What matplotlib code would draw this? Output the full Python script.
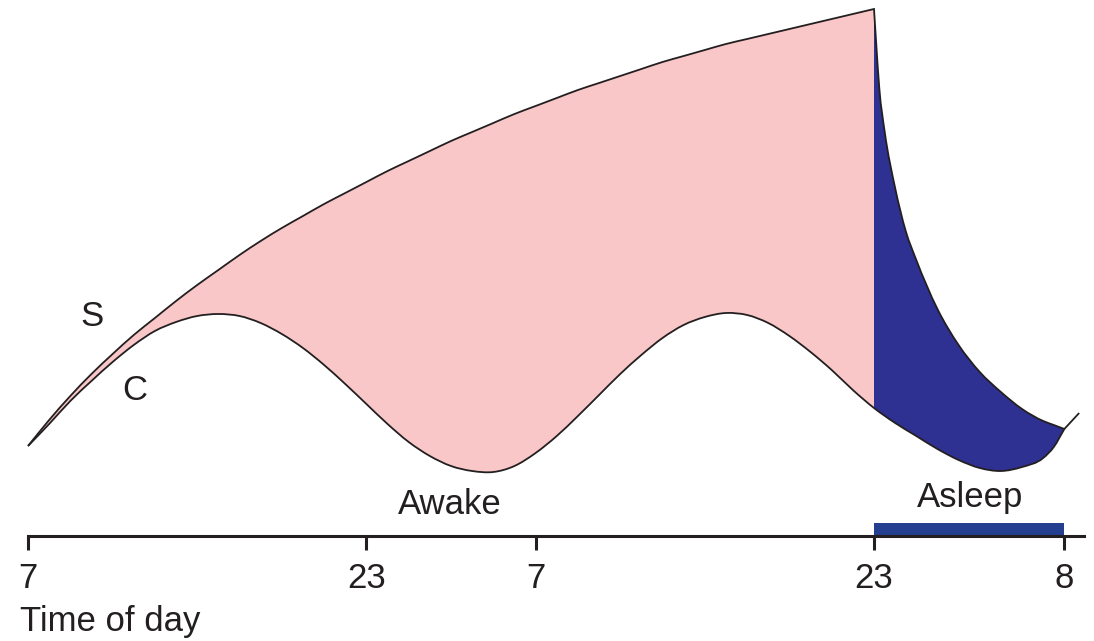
import numpy as np
import matplotlib
matplotlib.use("Agg")
import matplotlib.pyplot as plt
from matplotlib.path import Path
from matplotlib.patches import PathPatch

plt.rcParams['font.family'] = ['Liberation Sans', 'DejaVu Sans']

# ---- data (hours since 07:00 on day 1; levels in arbitrary units) ----
wake_hours = list(range(0, 41))
S_wake = [90, 116, 140, 162, 182, 201, 218, 235, 251, 266, 281, 295, 308, 320,
          332, 343, 354, 365, 375, 385, 395, 404, 413, 422, 430, 438, 446, 453,
          460, 467, 474, 480, 486, 492, 497, 502, 507, 512, 517, 522, 527]
C_wake = [90, 112, 135, 155, 174, 191, 205, 214, 220, 222, 220, 213, 202, 188,
          171, 152, 132, 112, 94, 80, 70, 65, 64, 70, 83, 100, 120, 141, 162,
          181, 198, 211, 219, 223, 221, 213, 200, 184, 166, 146, 128]

sleep_hours_S = [40, 40.1, 40.25, 40.5, 41, 41.5, 42, 43, 44, 45, 46, 47, 48, 48.5, 49]
S_sleep = [527, 494, 448, 405, 348, 305, 276, 227, 191, 164, 144, 127, 115, 111, 107]
after_hours = [49, 49.7]
S_after = [107, 123]

sleep_hours_C = [40, 41, 42, 43, 44, 45, 46, 47, 48, 48.5, 49]
C_sleep = [128, 113, 100, 87, 76, 68, 65, 69, 78, 89, 107]

tick_hours = [0, 16, 24, 40, 49]
tick_labels = ['7', '23', '7', '23', '8']
sleep_start, sleep_end = 40, 49

# ---- styles ----
PINK = '#F9C7C7'
NAVY = '#2E3192'
BAR = '#243E90'
INK = '#231F20'
FS = 25


def tangents(x, y):
    x = np.asarray(x, float); y = np.asarray(y, float)
    h = np.diff(x); d = np.diff(y) / h
    m = np.empty_like(y)
    m[0] = d[0]; m[-1] = d[-1]
    m[1:-1] = (d[:-1] * h[1:] + d[1:] * h[:-1]) / (h[:-1] + h[1:])
    return m


def bez(x, y, m, i0, i1):
    """Cubic Bezier segments through the read points from index i0 to i1
    (either direction)."""
    verts = []
    step = 1 if i1 > i0 else -1
    for i in range(i0, i1, step):
        j = i + step
        h = (x[j] - x[i]) / 3.0
        verts += [(x[i] + h, y[i] + m[i] * h),
                  (x[j] - h, y[j] - m[j] * h),
                  (x[j], y[j])]
    return verts, [Path.CURVE4] * len(verts)


fig = plt.figure(figsize=(10.94, 6.41), dpi=100)
ax = fig.add_axes([0, 0, 1, 1])
px_per_h = 21.15
ax.set_xlim(-28 / px_per_h, (1094 - 28) / px_per_h)
ax.set_ylim(-105, 536)

# arrays
xs_w = np.array(wake_hours, float); ys_w = np.array(S_wake, float)
ms_w = tangents(xs_w, ys_w)
xs_s = np.array(sleep_hours_S, float); ys_s = np.array(S_sleep, float)
ms_s = tangents(xs_s, ys_s)
xc = np.array(wake_hours + sleep_hours_C[1:], float)
yc = np.array(C_wake + C_sleep[1:], float)
mc = tangents(xc, yc)
k40 = len(wake_hours) - 1
kend = len(xc) - 1

# pink (awake) region
v1, c1 = bez(xs_w, ys_w, ms_w, 0, k40)
v2, c2 = bez(xc, yc, mc, k40, 0)
verts = [(xs_w[0], ys_w[0])] + v1 + [(xc[k40], yc[k40])] + v2 + [(0, 0)]
codes = [Path.MOVETO] + c1 + [Path.LINETO] + c2 + [Path.CLOSEPOLY]
ax.add_patch(PathPatch(Path(verts, codes), facecolor=PINK, edgecolor='none', lw=0))

# navy (asleep) region
v1, c1 = bez(xs_s, ys_s, ms_s, 0, len(xs_s) - 1)
v2, c2 = bez(xc, yc, mc, kend, k40)
verts = [(xs_s[0], ys_s[0])] + v1 + [(xc[kend], yc[kend])] + v2 + [(0, 0)]
codes = [Path.MOVETO] + c1 + [Path.LINETO] + c2 + [Path.CLOSEPOLY]
ax.add_patch(PathPatch(Path(verts, codes), facecolor=NAVY, edgecolor='none', lw=0))

# S curve line
v1, c1 = bez(xs_w, ys_w, ms_w, 0, k40)
v2, c2 = bez(xs_s, ys_s, ms_s, 0, len(xs_s) - 1)
verts = [(xs_w[0], ys_w[0])] + v1 + v2 + [(after_hours[1], S_after[1])]
codes = [Path.MOVETO] + c1 + c2 + [Path.LINETO]
ax.add_patch(PathPatch(Path(verts, codes), facecolor='none', edgecolor=INK,
                       lw=1.3, joinstyle='miter', capstyle='butt', zorder=3))

# C curve line
v1, c1 = bez(xc, yc, mc, 0, kend)
verts = [(xc[0], yc[0])] + v1
codes = [Path.MOVETO] + c1
ax.add_patch(PathPatch(Path(verts, codes), facecolor='none', edgecolor=INK,
                       lw=1.3, capstyle='butt', zorder=3))

# sleep bar
ax.bar(sleep_start, 12.5, width=sleep_end - sleep_start, bottom=1,
       align='edge', color=BAR, linewidth=0, zorder=3)

# axis
for s in ['left', 'right', 'top']:
    ax.spines[s].set_visible(False)
ax.spines['bottom'].set_position(('data', 0))
ax.spines['bottom'].set_bounds(0, (1084 - 28) / px_per_h)
ax.spines['bottom'].set_linewidth(2.2)
ax.spines['bottom'].set_color(INK)
ax.spines['bottom'].set_zorder(4)
ax.set_xticks(tick_hours)
ax.set_xticklabels(tick_labels)
ax.tick_params(axis='x', direction='out', length=10, width=2.2, color=INK,
               labelsize=FS, labelcolor=INK, pad=8.5)
ax.set_yticks([])

# labels
ax.text(-8 / px_per_h, -86, 'Time of day', fontsize=FS, color=INK,
        ha='left', va='center')
ax.text(19.95, 31, 'Awake', fontsize=FS, color=INK, ha='center', va='center')
ax.text(44.55, 38, 'Asleep', fontsize=FS, color=INK, ha='center', va='center')
ax.text(3.03, 219, 'S', fontsize=FS, color=INK, ha='center', va='center')
ax.text(5.06, 146, 'C', fontsize=FS, color=INK, ha='center', va='center')

fig.savefig('out.png', dpi=100)
